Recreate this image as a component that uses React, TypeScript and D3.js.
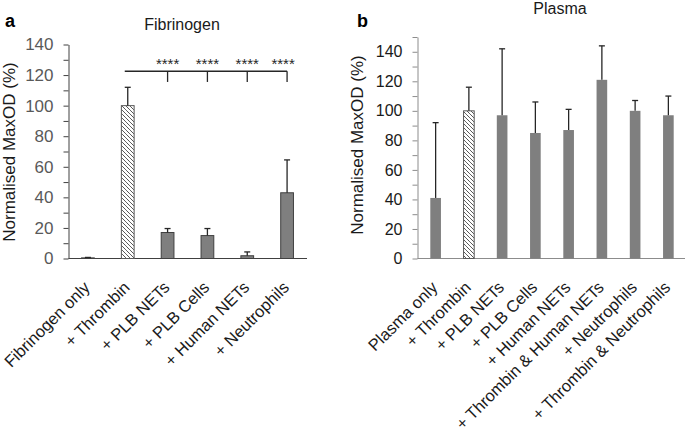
import React, { useEffect, useRef } from 'react';
import * as d3 from 'd3';

// Panel a: fibrinogen
const fibCategories = ['Fibrinogen only', '+ Thrombin', '+ PLB NETs', '+ PLB Cells', '+ Human NETs', '+ Neutrophils'];
const fibMeans = [0.4, 100, 17, 15, 1.8, 43];
const fibErrors = [0.3, 12, 2.6, 4.6, 2.5, 21.5];
const fibTicks = [0, 20, 40, 60, 80, 100, 120, 140];

// significance bracket: thrombin vs the treated groups
const sigFrom = '+ Thrombin';
const sigTargets = ['+ PLB NETs', '+ PLB Cells', '+ Human NETs', '+ Neutrophils'];
const sigLabels = ['****', '****', '****', '****'];

// Panel b: plasma
const plasmaCategories = [
  'Plasma only', '+ Thrombin', '+ PLB NETs', '+ PLB Cells', '+ Human NETs',
  '+ Thrombin & Human NETs', '+ Neutrophils', '+ Thrombin & Neutrophils'
];
const plasmaMeans = [41, 100, 97, 85, 87, 121, 100, 97];
const plasmaErrors = [51, 16, 45, 21, 14, 23, 7, 13];
const plasmaTicks = [0, 20, 40, 60, 80, 100, 120, 140];

const FONT = '"Liberation Sans", Arial, sans-serif';

interface PanelOpts {
  categories: string[];
  means: number[];
  errors: number[];
  ticks: number[];
  yMax: number;
  xRange: [number, number];
  axisX: number;
  yRange: [number, number];
  axisColor: string;
  tickColor: string;
  tickFont: number;
  catFont: number;
  barStroke: string | null;
  letter: string;
  letterPos: [number, number];
  title: string;
  titlePos: [number, number];
  yLabelPos: [number, number];
  yLabelFont: number;
}

function drawPanel(svg: d3.Selection<SVGSVGElement, unknown, null, undefined>, o: PanelOpts) {
  const g = svg.append('g');
  const x = d3.scaleBand<string>().domain(o.categories).range(o.xRange).padding(0);
  const y = d3.scaleLinear().domain([0, o.yMax]).range(o.yRange);
  const bw = x.bandwidth() * 0.32;
  const cx = (c: string) => (x(c) || 0) + x.bandwidth() / 2;

  // minor ticks every 10
  const minor = d3.range(10, o.yMax + 1, 20).filter(v => !o.ticks.includes(v));
  const minorAxis = g.append('g')
    .attr('transform', `translate(${o.axisX},0)`)
    .call(d3.axisLeft(y).tickValues(minor).tickSize(5).tickFormat(() => ''));
  minorAxis.select('.domain').remove();
  minorAxis.selectAll('line').attr('stroke', o.axisColor);

  const yAxis = g.append('g')
    .attr('transform', `translate(${o.axisX},0)`)
    .call(d3.axisLeft(y).tickValues(o.ticks).tickSize(5).tickPadding(10).tickSizeOuter(0));
  yAxis.select('.domain').attr('stroke', o.axisColor);
  yAxis.selectAll('line').attr('stroke', o.axisColor);
  yAxis.selectAll('text')
    .attr('fill', o.tickColor)
    .style('font-family', FONT)
    .style('font-size', `${o.tickFont}px`);

  // x axis baseline
  g.append('line')
    .attr('x1', o.axisX).attr('x2', o.xRange[1])
    .attr('y1', y(0)).attr('y2', y(0))
    .attr('stroke', o.axisColor);

  // bars
  g.selectAll('.bar')
    .data(o.categories)
    .enter()
    .append('rect')
    .attr('x', d => cx(d) - bw / 2)
    .attr('width', bw)
    .attr('y', (_, i) => y(o.means[i]))
    .attr('height', (_, i) => y(0) - y(o.means[i]))
    .attr('fill', d => (d === '+ Thrombin' ? 'url(#hatch)' : '#7f7f7f'))
    .attr('stroke', d => (d === '+ Thrombin' ? '#595959' : o.barStroke || 'none'))
    .attr('stroke-width', 1);

  // error bars (upper only)
  const eb = g.selectAll('.err').data(o.categories).enter().append('g');
  eb.append('line')
    .attr('x1', d => cx(d)).attr('x2', d => cx(d))
    .attr('y1', (_, i) => y(o.means[i]))
    .attr('y2', (_, i) => y(o.means[i] + o.errors[i]))
    .attr('stroke', '#262626').attr('stroke-width', 1.3);
  eb.append('line')
    .attr('x1', d => cx(d) - 3).attr('x2', d => cx(d) + 3)
    .attr('y1', (_, i) => y(o.means[i] + o.errors[i]))
    .attr('y2', (_, i) => y(o.means[i] + o.errors[i]))
    .attr('stroke', '#262626').attr('stroke-width', 1.3);

  // category labels
  g.selectAll('.xl')
    .data(o.categories)
    .enter()
    .append('text')
    .attr('transform', d => `translate(${cx(d) + 3},${y(0) + 30}) rotate(-45)`)
    .attr('text-anchor', 'end')
    .style('font-family', FONT)
    .style('font-size', `${o.catFont}px`)
    .attr('fill', '#1a1a1a')
    .text(d => d);

  // y label
  g.append('text')
    .attr('transform', `translate(${o.yLabelPos[0]},${o.yLabelPos[1]}) rotate(-90)`)
    .attr('text-anchor', 'middle')
    .style('font-family', FONT)
    .style('font-size', `${o.yLabelFont}px`)
    .attr('fill', '#1a1a1a')
    .text('Normalised MaxOD (%)');

  g.append('text')
    .attr('x', o.titlePos[0]).attr('y', o.titlePos[1])
    .attr('text-anchor', 'middle')
    .style('font-family', FONT)
    .style('font-size', '16px')
    .attr('fill', '#1a1a1a')
    .text(o.title);

  g.append('text')
    .attr('x', o.letterPos[0]).attr('y', o.letterPos[1])
    .style('font-family', FONT)
    .style('font-size', '18px')
    .style('font-weight', 'bold')
    .attr('fill', '#000')
    .text(o.letter);

  return { g, x, y, cx };
}

export default function App() {
  const svgRef = useRef<SVGSVGElement>(null);

  useEffect(() => {
    if (!svgRef.current) return;
    const svg = d3.select(svgRef.current);
    svg.selectAll('*').remove();

    const defs = svg.append('defs');
    const pat = defs.append('pattern')
      .attr('id', 'hatch')
      .attr('patternUnits', 'userSpaceOnUse')
      .attr('width', 4).attr('height', 4);
    pat.append('rect').attr('width', 4).attr('height', 4).attr('fill', '#fff');
    pat.append('path')
      .attr('d', 'M-1,-1 l2,2 M0,0 l4,4 M3,3 l2,2')
      .attr('stroke', '#555').attr('stroke-width', 0.9);

    const a = drawPanel(svg, {
      categories: fibCategories,
      means: fibMeans,
      errors: fibErrors,
      ticks: fibTicks,
      yMax: 140,
      xRange: [68, 307],
      axisX: 68.5,
      yRange: [258.5, 44.5],
      axisColor: '#404040',
      tickColor: '#595959',
      tickFont: 17,
      catFont: 16.5,
      barStroke: '#404040',
      letter: 'a',
      letterPos: [5, 27],
      title: 'Fibrinogen',
      titlePos: [182, 30],
      yLabelPos: [15, 152],
      yLabelFont: 17
    });

    // significance bracket
    const yTop = a.y(122.5);
    const yDrop = a.y(115.5);
    const x0 = a.cx(sigFrom) - 3;
    const x1 = a.cx(sigTargets[sigTargets.length - 1]);
    a.g.append('line')
      .attr('x1', x0).attr('x2', x1).attr('y1', yTop).attr('y2', yTop)
      .attr('stroke', '#262626').attr('stroke-width', 1.3);
    sigTargets.forEach((t, i) => {
      a.g.append('line')
        .attr('x1', a.cx(t)).attr('x2', a.cx(t))
        .attr('y1', yTop).attr('y2', yDrop)
        .attr('stroke', '#262626').attr('stroke-width', 1.3);
      a.g.append('text')
        .attr('x', a.cx(t) - (i === sigTargets.length - 1 ? 4 : 0))
        .attr('y', a.y(124.5) + 1)
        .attr('text-anchor', 'middle')
        .style('font-family', FONT)
        .style('font-size', '15px')
        .attr('fill', '#262626')
        .text(sigLabels[i]);
    });

    drawPanel(svg, {
      categories: plasmaCategories,
      means: plasmaMeans,
      errors: plasmaErrors,
      ticks: plasmaTicks,
      yMax: 150,
      xRange: [419, 685],
      axisX: 417.5,
      yRange: [258.5, 37],
      axisColor: '#8c8c8c',
      tickColor: '#1a1a1a',
      tickFont: 16,
      catFont: 16.5,
      barStroke: null,
      letter: 'b',
      letterPos: [357, 27],
      title: 'Plasma',
      titlePos: [560, 14],
      yLabelPos: [363, 145],
      yLabelFont: 17
    });
  }, []);

  return (
    <svg
      ref={svgRef}
      width={685}
      height={434}
      style={{ position: 'absolute', left: 0, top: 0, background: '#fff' }}
    />
  );
}
